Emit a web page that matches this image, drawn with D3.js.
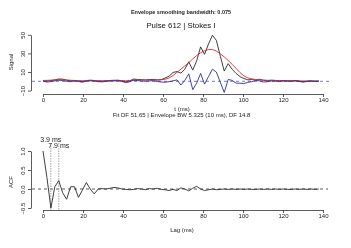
<!DOCTYPE html>
<html>
<head>
<meta charset="utf-8">
<script src="https://cdn.jsdelivr.net/npm/d3@7"></script>
<style>
  body { margin: 0; background: #fff; }
  svg { font-family: "Liberation Sans", Arial, sans-serif; will-change: transform; }
</style>
</head>
<body>
<div id="chart"></div>
<script>
// sample spacing (ms) for the pulse and the ACF lags
var dt = 1.97;

// signal (black), envelope fit (red), residual (blue)
var signal = [0.5, 0.2, 0.8, 1.5, 2.5, 2.3, 1.2, 0.6, 0.9, 0.4,
    -0.3, 0.8, 1.2, 0.9, 0.3, 0.0, 0.5, 0.9, 1.1, 1.2,
    0.6, -0.6, 0.4, 2.4, 2.0, 1.8, 1.4, 1.9, 2.0, 1.5,
    1.8, 3.5, 5.5, 9.5, 10.5, 8.8, 13, 21, 12, 22,
    37, 29, 40, 49.5, 44, 27, 11, 19, 13, 8.5,
    5, 3, 1.5, 2, 1.2, 2.2, 1.0, 0.6, 1.2, 0.9,
    0.6, 0.9, 0.7, 0.5, 0.9, 0.3, -0.4, 0.2, 0.5, 0.1, 0.3];
var envelope = [0.9, 1.0, 1.2, 1.4, 1.6, 1.6, 1.4, 1.1, 0.9, 0.7,
    0.6, 0.7, 0.8, 0.8, 0.7, 0.6, 0.6, 0.7, 0.8, 0.8,
    0.7, 0.6, 0.8, 1.1, 1.3, 1.4, 1.4, 1.4, 1.3, 1.3,
    1.6, 2.2, 3.6, 6.2, 9.6, 13.0, 16.5, 20.0, 24.0, 27.7,
    30.7, 32.9, 34.1, 34.2, 32.6, 29.5, 26.2, 22.4, 18.3, 14.0,
    9.4, 5.8, 3.6, 2.5, 1.9, 1.5, 1.3, 1.1, 1.0, 0.9,
    0.8, 0.7, 0.6, 0.6, 0.5, 0.4, 0.3, 0.3, 0.2, 0.2, 0.2];
var residual = [0.2, -0.8, -0.3, 0.4, 1.2, 0.9, 0.0, -0.4, 0.3, -0.2,
    -1.0, 0.2, 0.5, 0.2, -0.4, -0.6, -0.1, 0.3, 0.4, 0.5,
    -0.1, -1.4, -0.5, 1.3, 0.7, 0.4, 0.0, 0.4, 0.6, -0.2,
    -0.8, -1.0, -0.4, 0.5, 1.5, -4, 1, 8, -9, -2,
    8.5, -3, 5, 13, 10, -1, -12, 2, 1, -2,
    -2, -2.5, -1, -0.5, 1.0, 0.5, -0.8, -0.4, 0.3, 0.0,
    -0.3, 0.2, 0.1, -0.2, 0.4, -0.2, -0.9, -0.2, 0.2, -0.2, 0.1];

// autocorrelation of the residual
var acf = [1.0, 0.3, -0.5, 0.06, 0.22, -0.1, -0.27, 0.06, 0.06, -0.22,
    -0.03, 0.17, 0.0, -0.13, 0.0, 0.01, 0.0, 0.02, 0.04, 0.03,
    0.0, -0.01, -0.02, -0.01, 0.01, 0.0, -0.02, 0.01, 0.0, 0.02,
    -0.01, -0.02, -0.04, -0.01, -0.04, 0.03, 0.0, -0.05, 0.02, 0.07,
    0.0, -0.04, -0.02, 0.0, -0.02, -0.01, 0.0, -0.01, 0.0, -0.01,
    0.0, -0.01, 0.0, -0.01, -0.01, 0.0, -0.01, 0.0, -0.01, 0.0,
    -0.01, 0.0, -0.01, -0.01, 0.0, -0.01, 0.0, -0.01, 0.0, -0.01, 0.0];
var peakLags = [3.9, 7.9];

var xTicks = [0, 20, 40, 60, 80, 100, 120, 140];
var sigTicks = [-10, 10, 30, 50];
var acfTicks = [-0.5, 0, 0.5, 1];

var width = 351, height = 248;
var ink = "#222";

var svg = d3.select("#chart").append("svg")
    .attr("width", width)
    .attr("height", height);

var x = d3.scaleLinear().domain([0, 140]).range([43, 323]);
var ySig = d3.scaleLinear().domain([-10, 50]).range([90.6, 34.8]);
var yAcf = d3.scaleLinear().domain([-0.5, 1]).range([208, 151]);

function styleAxis(g) {
    g.selectAll("path, line").attr("stroke", "#333").attr("stroke-width", 0.8);
    g.selectAll("text").attr("fill", ink).style("font-size", "6px");
}
function leftAxis(scale, ticks, fmt) {
    var g = svg.append("g").attr("transform", "translate(31,0)")
        .call(d3.axisLeft(scale).tickValues(ticks).tickSize(3).tickSizeOuter(0).tickFormat(fmt));
    g.select(".domain").attr("fill", "none");
    g.selectAll("text")
        .attr("x", null).attr("dy", null)
        .attr("text-anchor", "middle")
        .attr("transform", "translate(-6.5,0) rotate(-90)");
    styleAxis(g);
}
function bottomAxis(y0) {
    var g = svg.append("g").attr("transform", "translate(0," + y0 + ")")
        .call(d3.axisBottom(x).tickValues(xTicks).tickSize(3).tickSizeOuter(0).tickPadding(1));
    styleAxis(g);
}

// ---- top panel ----
svg.append("text").attr("x", 181).attr("y", 14).attr("text-anchor", "middle")
    .style("font-size", "5.5px").style("font-weight", "bold").attr("fill", ink)
    .text("Envelope smoothing bandwidth: 0.075");
svg.append("text").attr("x", 181).attr("y", 28).attr("text-anchor", "middle")
    .style("font-size", "7.8px").attr("fill", "#111")
    .text("Pulse 612 | Stokes I");

svg.append("line")
    .attr("x1", 32).attr("x2", 330).attr("y1", ySig(0)).attr("y2", ySig(0))
    .attr("stroke", "#5a5ab8").attr("stroke-width", 0.8).attr("stroke-dasharray", "3,3");

var lineSig = d3.line().x(function(d, i) { return x(i * dt); }).y(function(d) { return ySig(d); });
[[signal, "#2a2a2a"], [envelope, "#e3262b"], [residual, "#2b2fa0"]].forEach(function(s) {
    svg.append("path").datum(s[0])
        .attr("d", lineSig)
        .attr("fill", "none").attr("stroke", s[1]).attr("stroke-width", 0.9);
});

bottomAxis(94);
leftAxis(ySig, sigTicks, d3.format("d"));

svg.append("text").attr("transform", "translate(13,62) rotate(-90)").attr("text-anchor", "middle")
    .style("font-size", "6px").attr("fill", ink).text("Signal");
svg.append("text").attr("x", 182).attr("y", 110.5).attr("text-anchor", "middle")
    .style("font-size", "6px").attr("fill", ink).text("t (ms)");
svg.append("text").attr("x", 181.5).attr("y", 117.3).attr("text-anchor", "middle")
    .style("font-size", "6px").attr("fill", ink)
    .text("Fit DF 51.65 | Envelope BW 5.325 (10 ms), DF 14.8");

// ---- ACF panel ----
svg.append("line")
    .attr("x1", 32).attr("x2", 328).attr("y1", yAcf(0)).attr("y2", yAcf(0))
    .attr("stroke", "#333").attr("stroke-width", 0.8).attr("stroke-dasharray", "3,3");

peakLags.forEach(function(l, i) {
    svg.append("line")
        .attr("x1", x(l)).attr("x2", x(l)).attr("y1", 143).attr("y2", 210)
        .attr("stroke", "#999").attr("stroke-width", 0.9).attr("stroke-dasharray", "1.5,1");
});

var lineAcf = d3.line().x(function(d, i) { return x(i * dt); }).y(function(d) { return yAcf(d); });
svg.append("path").datum(acf)
    .attr("d", lineAcf)
    .attr("fill", "none").attr("stroke", "#2a2a2a").attr("stroke-width", 0.9);

peakLags.forEach(function(l, i) {
    svg.append("text").attr("x", x(l)).attr("y", 141.5 + i * 6).attr("text-anchor", "middle")
        .style("font-size", "7px").attr("fill", ink).text(l.toFixed(1) + " ms");
});

bottomAxis(210);
leftAxis(yAcf, acfTicks, d3.format(".1f"));

svg.append("text").attr("transform", "translate(13,182) rotate(-90)").attr("text-anchor", "middle")
    .style("font-size", "6px").attr("fill", ink).text("ACF");
svg.append("text").attr("x", 182).attr("y", 231.5).attr("text-anchor", "middle")
    .style("font-size", "6px").attr("fill", ink).text("Lag (ms)");
</script>
</body>
</html>
